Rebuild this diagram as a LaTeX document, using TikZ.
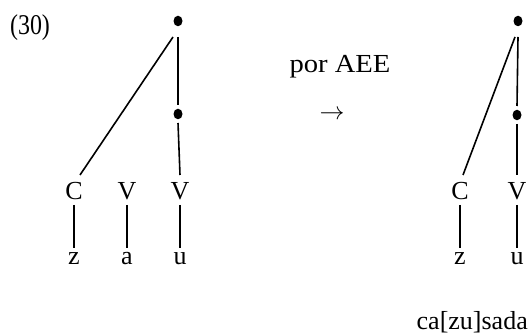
\documentclass[tikz,border=0pt]{standalone}
\usepackage{fontspec}
\usetikzlibrary{shapes.geometric}
\setmainfont{Liberation Serif}
\begin{document}
\begin{tikzpicture}[x=1pt,y=-1pt,
  lab/.style={inner sep=0pt,font=\fontsize{26}{26}\selectfont},
  dotn/.style={ellipse,fill=black,inner sep=0pt,minimum width=9pt,minimum height=10.5pt},
  ledge/.style={line width=1.6pt}]
\useasboundingbox (0,0) rectangle (529,336);
\node[lab,anchor=center] (num) at (30,28) {\scalebox{0.92}[1.1]{(30)}};
% left tree
\node[dotn] (t1) at (178,21) {};
\node[dotn] (m1) at (178,114) {};
\node[lab] (c1) at (74,191) {C};
\node[lab] (v1) at (127,191) {V};
\node[lab] (v2) at (180,191) {V};
\node[lab,anchor=base] (z1) at (74,264) {z};
\node[lab,anchor=base] (a1) at (127,264) {a};
\node[lab,anchor=base] (u1) at (180,264) {u};
\draw[ledge] ([shift={(-5,16)}]t1.center) -- ([shift={(6,-16)}]c1.center);
\draw[ledge] ([shift={(0,16)}]t1.center) -- ([shift={(0,-9)}]m1.center);
\draw[ledge] ([shift={(0,9)}]m1.center) -- ([shift={(0,-16)}]v2.center);
\draw[ledge] ([shift={(0,14)}]c1.center) -- ([shift={(0,-16)}]z1.base);
\draw[ledge] ([shift={(0,14)}]v1.center) -- ([shift={(0,-16)}]a1.base);
\draw[ledge] ([shift={(0,14)}]v2.center) -- ([shift={(0,-16)}]u1.base);
% middle
\node[lab,anchor=center] (por) at (340,67) {\scalebox{1.1}[1]{por AEE}};
\node[lab,anchor=center] (arr) at (332,115) {$\rightarrow$};
% right tree
\node[dotn] (t2) at (518,21) {};
\node[dotn] (m2) at (517,115) {};
\node[lab] (c2) at (460,191) {C};
\node[lab] (v3) at (517,191) {V};
\node[lab,anchor=base] (z2) at (460,264) {z};
\node[lab,anchor=base] (u2) at (517,264) {u};
\draw[ledge] ([shift={(-3,16)}]t2.center) -- ([shift={(3,-16)}]c2.center);
\draw[ledge] ([shift={(0,16)}]t2.center) -- ([shift={(0,-9)}]m2.center);
\draw[ledge] ([shift={(0,9)}]m2.center) -- ([shift={(0,-16)}]v3.center);
\draw[ledge] ([shift={(0,14)}]c2.center) -- ([shift={(0,-16)}]z2.base);
\draw[ledge] ([shift={(0,14)}]v3.center) -- ([shift={(0,-16)}]u2.base);
\node[lab,anchor=base east] (word) at (528,329) {ca[zu]sada};
\end{tikzpicture}
\end{document}
